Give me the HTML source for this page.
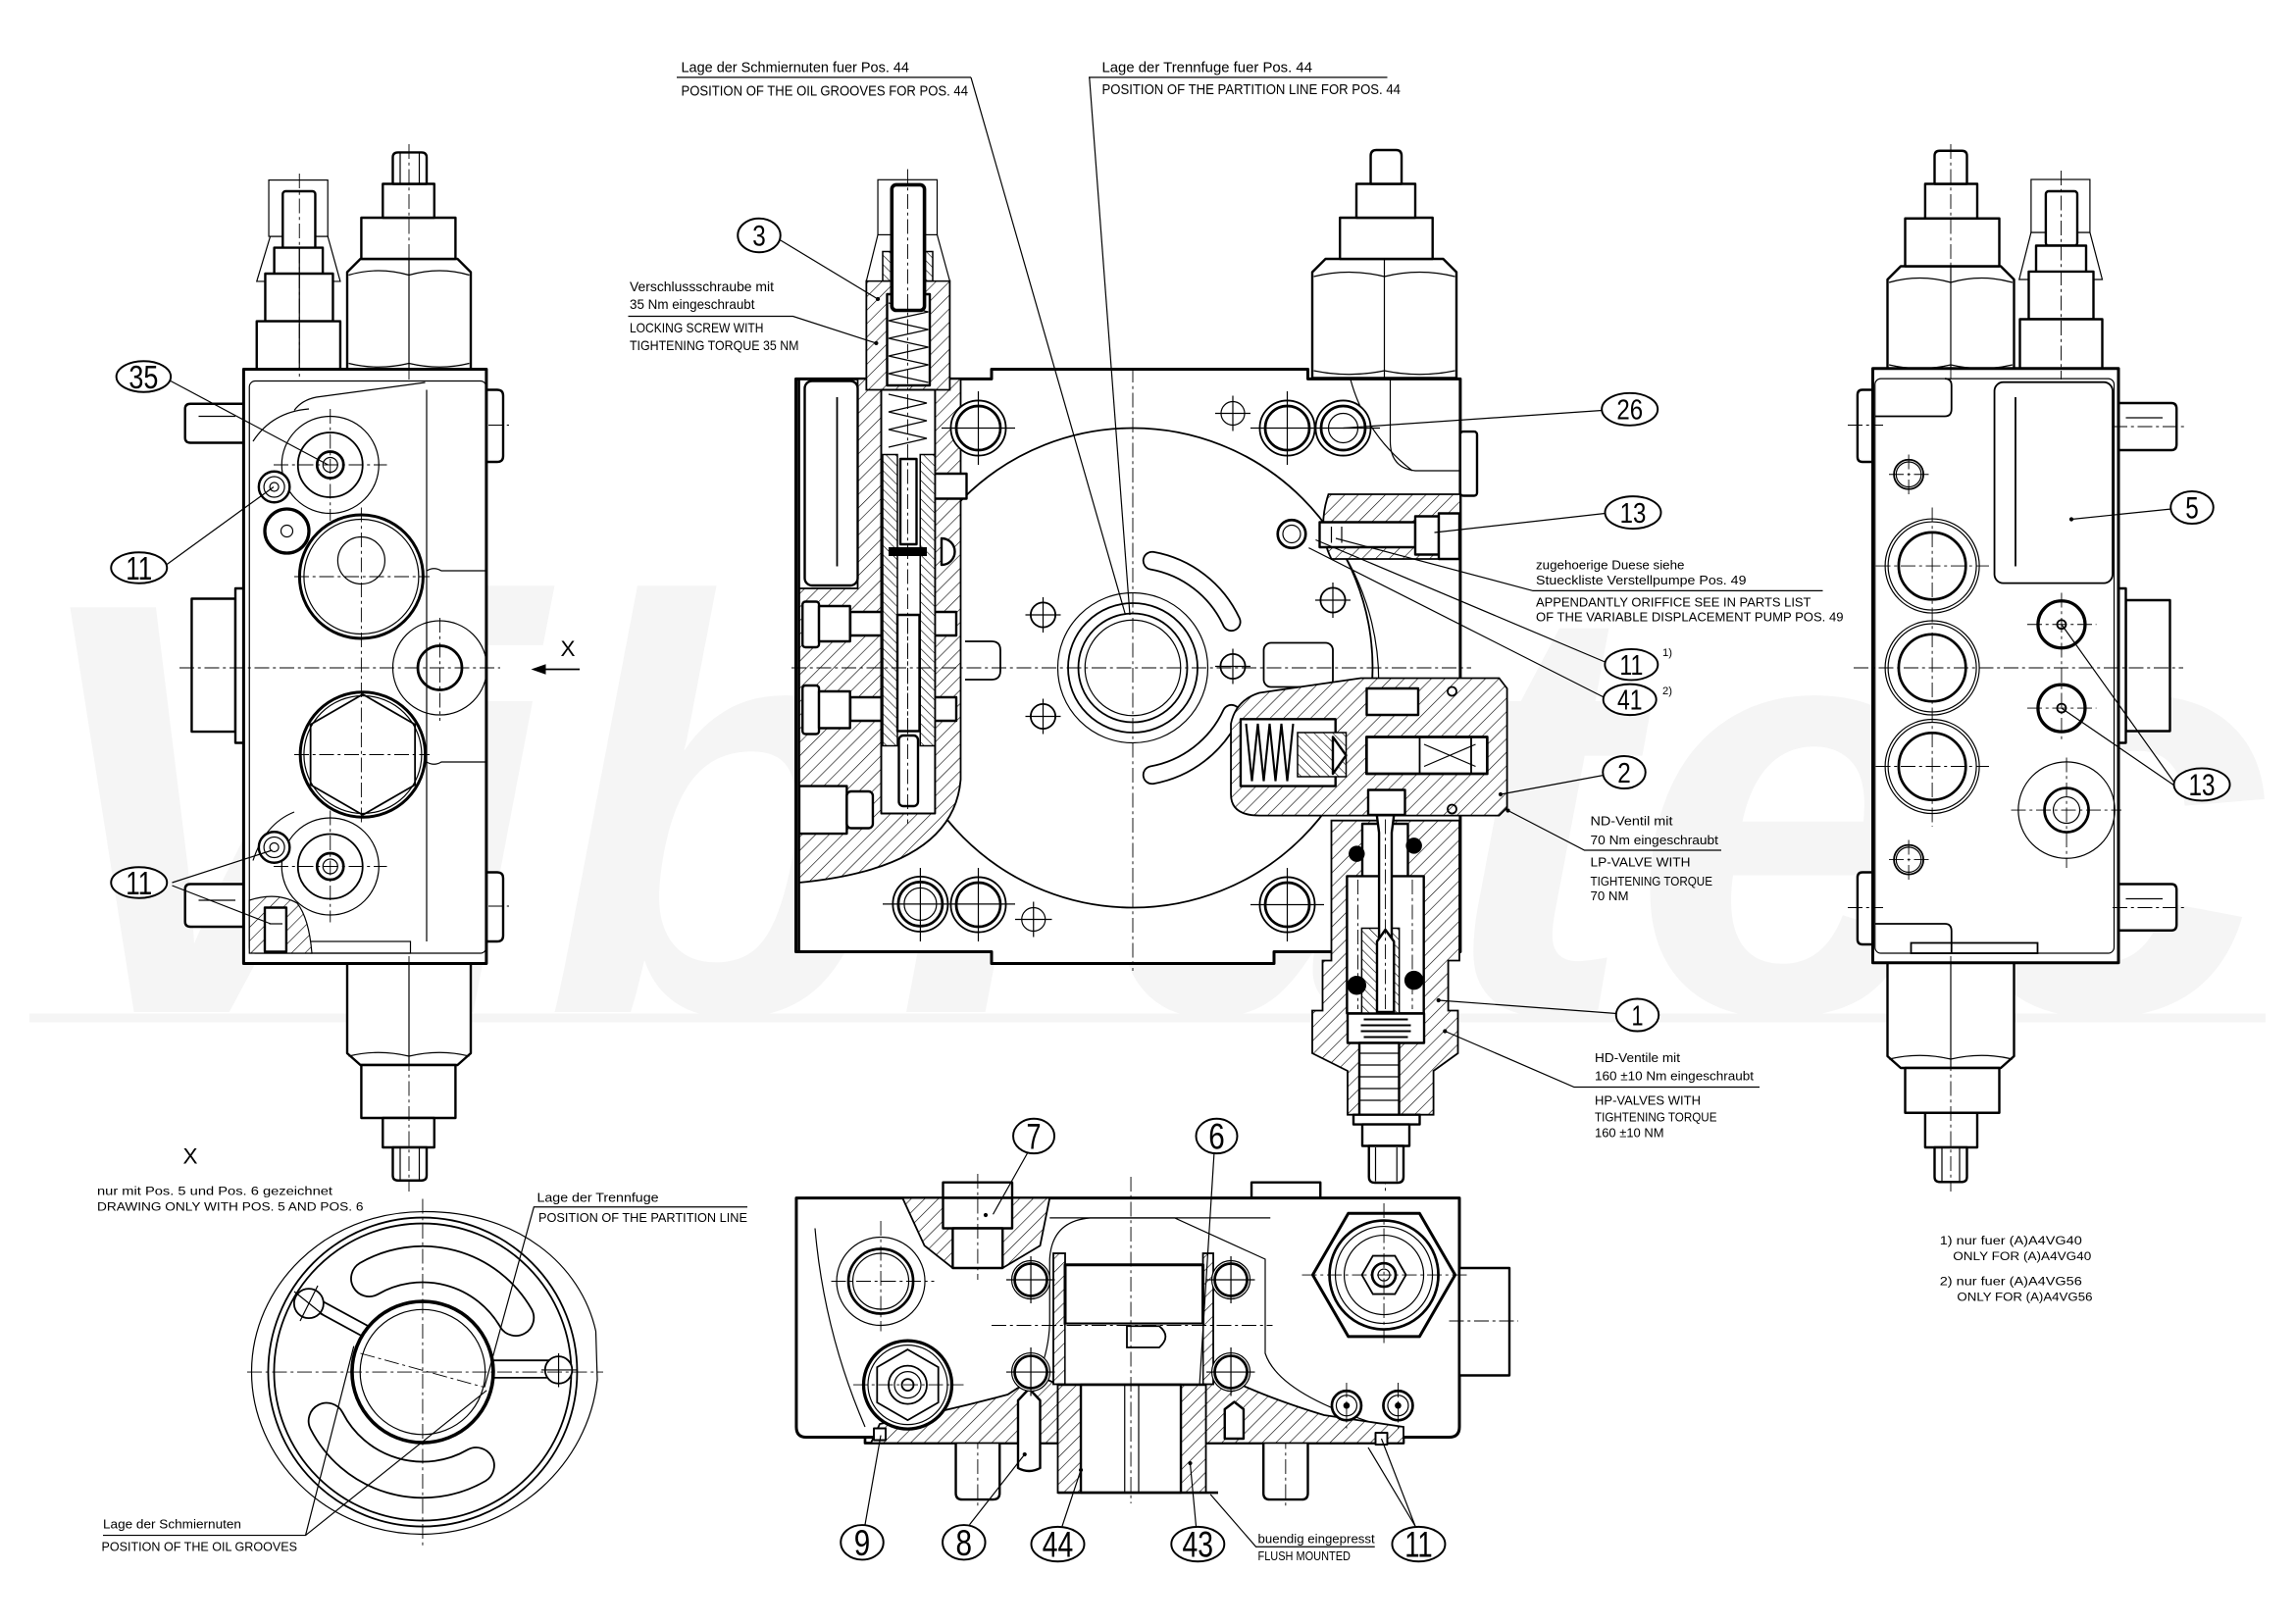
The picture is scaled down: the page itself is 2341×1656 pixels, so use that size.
<!DOCTYPE html>
<html><head><meta charset="utf-8">
<style>
html,body{margin:0;padding:0;background:#fff;}
svg{display:block;}
text{font-family:"Liberation Sans",sans-serif;fill:#000;}
.k{fill:none;stroke:#000;stroke-width:1.8;stroke-linejoin:round}
.m{fill:none;stroke:#000;stroke-width:1.2}
.t{fill:none;stroke:#000;stroke-width:0.8}
.w{fill:#fff;stroke:#000;stroke-width:1.6;stroke-linejoin:round}
.wt{fill:#fff;stroke:#000;stroke-width:0.8}
.c{fill:none;stroke:#000;stroke-width:0.6;stroke-dasharray:10 2.5 2 2.5}
.h{fill:url(#hp);stroke:#000;stroke-width:1.2}
.hq{fill:url(#hq);stroke:#000;stroke-width:1}
.lb{fill:#fff;stroke:#000;stroke-width:1.3}
.ld{fill:none;stroke:#000;stroke-width:0.8}
.n{text-anchor:middle}
.dot{fill:#000}
</style></head><body>
<svg xmlns="http://www.w3.org/2000/svg" width="2341" height="1656" viewBox="0 0 1560.67 1104">
<defs>
<pattern id="hp" patternUnits="userSpaceOnUse" width="6.5" height="6.5" patternTransform="rotate(45)"><rect width="6.5" height="6.5" fill="#fff"/><line x1="0" y1="0" x2="0" y2="6.5" stroke="#000" stroke-width="0.8"/></pattern>
<pattern id="hq" patternUnits="userSpaceOnUse" width="4.5" height="4.5" patternTransform="rotate(-45)"><rect width="4.5" height="4.5" fill="#fff"/><line x1="0" y1="0" x2="0" y2="4.5" stroke="#000" stroke-width="0.8"/></pattern>
<clipPath id="cl1"><rect x="165" y="251" width="165.6" height="404"/></clipPath>
</defs>
<rect x="0" y="0" width="1560.67" height="1104" fill="#fff"/>

<!-- watermark -->
<g fill="#f5f5f5">
<text x="15" y="688" font-size="400" font-style="italic" font-weight="bold" textLength="1530" lengthAdjust="spacingAndGlyphs" style="fill:#f5f5f5">Vibratec</text>
<rect x="20" y="689" width="1520" height="6"/>
</g>

<!-- ================= LEFT VIEW ================= -->
<g>
<path class="wt" d="M174.5,191.3 L183.7,160.7 H222.8 L231.3,191.3 Z"/>
<rect class="wt" x="182.7" y="122.4" width="40.1" height="38.3"/>
<rect class="w" x="192.2" y="130" width="22.1" height="41" rx="2"/>
<rect class="w" x="186.4" y="168.4" width="33" height="17.8"/>
<rect class="w" x="180.3" y="186" width="46" height="32.4"/>
<rect class="w" x="174.5" y="218.4" width="56.8" height="32.6"/>
<line class="t" x1="203.5" y1="168.4" x2="203.5" y2="251"/>

<path class="w" d="M236,251 V185 L245,176 H311 L320,185 V251 Z"/>
<path class="t" d="M237,187 Q257,181 278,187 Q299,181 319,187 M237,247 Q257,252 278,247 Q299,252 319,247"/>
<line class="t" x1="278" y1="176" x2="278" y2="251"/>
<rect class="w" x="245.6" y="148" width="64" height="28"/>
<rect class="w" x="260.2" y="125" width="35" height="23"/>
<path class="w" d="M267,125 V107 Q267,103.6 270.5,103.6 H286.5 Q290,103.6 290,107 V125 Z"/>
<line class="t" x1="272" y1="104" x2="272" y2="125"/><line class="t" x1="285" y1="104" x2="285" y2="125"/>

<path class="w" d="M236,655 V716 L245,724 H311 L320,716 V655 Z"/>
<path class="t" d="M237,718 Q257,713 278,718 Q299,713 319,718"/>
<line class="t" x1="278" y1="655" x2="278" y2="724"/>
<rect class="w" x="245.6" y="724" width="64" height="36"/>
<rect class="w" x="260.2" y="760" width="35" height="20"/>
<path class="w" d="M267,780 V799 Q267,802.5 270.5,802.5 H286.5 Q290,802.5 290,799 V780 Z"/>
<line class="t" x1="272" y1="780" x2="272" y2="802"/><line class="t" x1="285" y1="780" x2="285" y2="802"/>

<!-- studs & nubs -->
<path class="w" d="M165.6,274.5 H129.5 Q125.8,274.5 125.8,278 V297.5 Q125.8,301 129.5,301 H165.6"/>
<path class="w" d="M165.6,601 H129.5 Q125.8,601 125.8,604.5 V626.5 Q125.8,630 129.5,630 H165.6"/>
<line class="t" x1="135" y1="283" x2="160" y2="283"/><line class="t" x1="135" y1="612" x2="160" y2="612"/>
<rect class="w" x="130.3" y="407" width="29.7" height="90.4"/>
<rect class="w" x="160" y="400" width="5.6" height="105"/>
<path class="w" d="M330.6,265 H338 Q342,265 342,269 V310 Q342,314 338,314 H330.6"/>
<path class="w" d="M330.6,593 H338 Q342,593 342,597 V636 Q342,640 338,640 H330.6"/>

<!-- body -->
<rect class="w" x="165.6" y="251" width="165" height="404" style="stroke-width:2"/>
<rect class="t" x="169.5" y="259" width="161" height="389" rx="4"/>
<line class="t" x1="290" y1="265" x2="290" y2="640"/>
<path class="t" d="M200,279 Q205,272 215,270 L289,260"/>
<path class="t" d="M290,388 Q295,385 300,388 H330 M290,518 Q295,521 300,518 H330"/>
<path class="t" d="M172,300 Q185,280 210,278"/>
<path class="t" d="M172,585 Q180,560 200,552"/>
<rect class="t" x="211" y="640" width="68" height="8"/>

<!-- ports -->
<circle class="t" cx="224.5" cy="316" r="33"/>
<circle class="m" cx="224.5" cy="316" r="22" style="fill:#fff"/>
<circle class="k" cx="224.5" cy="316" r="9"/>
<circle class="t" cx="224.5" cy="316" r="5"/>
<circle class="w" cx="186.4" cy="331" r="10.5"/>
<circle class="t" cx="186.4" cy="331" r="7"/>
<circle class="t" cx="186.4" cy="331" r="3"/>
<circle class="k" cx="195" cy="361" r="15" style="fill:#fff;stroke-width:2.2"/>
<circle class="t" cx="195" cy="361" r="4"/>
<circle class="w" cx="245.6" cy="392" r="42" style="stroke-width:2"/>
<circle class="t" cx="245.6" cy="392" r="39"/>
<circle class="t" cx="245.6" cy="381" r="16"/>
<g clip-path="url(#cl1)"><circle class="t" cx="299" cy="454" r="32"/></g>
<circle class="k" cx="299" cy="454" r="15"/>
<circle class="w" cx="246.6" cy="513" r="42.5" style="stroke-width:2"/>
<circle class="t" cx="246.6" cy="513" r="40"/>
<polygon class="m" points="246.6,472 282.1,492.5 282.1,533.5 246.6,554 211.1,533.5 211.1,492.5"/>
<circle class="t" cx="224.5" cy="589" r="33"/>
<circle class="m" cx="224.5" cy="589" r="22" style="fill:#fff"/>
<circle class="k" cx="224.5" cy="589" r="9"/>
<circle class="t" cx="224.5" cy="589" r="5"/>
<circle class="w" cx="186.4" cy="576" r="10.5"/>
<circle class="t" cx="186.4" cy="576" r="7"/>
<circle class="t" cx="186.4" cy="576" r="3"/>
<path class="h" d="M169.5,612 Q188,606 202,614 Q210,624 212,648 H169.5 Z" style="stroke-width:0.8"/>
<rect class="w" x="180" y="617" width="14.6" height="30"/>
<line class="t" x1="183" y1="628" x2="192" y2="628"/>

<!-- centerlines -->
<line class="c" x1="122" y1="454" x2="340" y2="454"/>
<line class="c" x1="224.5" y1="278" x2="224.5" y2="354"/>
<line class="c" x1="224.5" y1="551" x2="224.5" y2="627"/>
<line class="c" x1="186" y1="316" x2="263" y2="316"/>
<line class="c" x1="186" y1="589" x2="263" y2="589"/>
<line class="c" x1="245.6" y1="345" x2="245.6" y2="560"/>
<line class="c" x1="200" y1="392" x2="292" y2="392"/>
<line class="c" x1="200" y1="513" x2="292" y2="513"/>
<line class="c" x1="299" y1="420" x2="299" y2="490"/>
<line class="c" x1="203.5" y1="118" x2="203.5" y2="256"/>
<line class="c" x1="278" y1="98" x2="278" y2="258"/>
<line class="c" x1="278" y1="650" x2="278" y2="810"/>
<line class="c" x1="332" y1="289" x2="346" y2="289"/>
<line class="c" x1="332" y1="616" x2="346" y2="616"/>

<!-- X arrow -->
<text x="386" y="446" font-size="15" class="n">X</text>
<line class="m" x1="394" y1="455" x2="368" y2="455"/>
<polygon points="361,455 371,451.5 371,458.5" fill="#000"/>

<!-- labels -->
<line class="ld" x1="116" y1="259" x2="223" y2="316"/>
<line class="ld" x1="113" y1="384" x2="186" y2="331"/>
<line class="ld" x1="117" y1="600" x2="185" y2="578"/>
<line class="ld" x1="117" y1="602" x2="184" y2="628"/>
<ellipse class="lb" cx="97.6" cy="256" rx="18.5" ry="10.5"/><text class="n" x="97.6" y="264" font-size="22" textLength="20" lengthAdjust="spacingAndGlyphs">35</text>
<ellipse class="lb" cx="94.5" cy="386" rx="19" ry="10.5"/><text class="n" x="94.5" y="394" font-size="22" textLength="18" lengthAdjust="spacingAndGlyphs">11</text>
<ellipse class="lb" cx="94.5" cy="600" rx="19" ry="10.5"/><text class="n" x="94.5" y="608" font-size="22" textLength="18" lengthAdjust="spacingAndGlyphs">11</text>
</g>

<!-- ================= TOP TEXTS ================= -->
<g>
<text x="463" y="49" font-size="9.8" textLength="155" lengthAdjust="spacingAndGlyphs">Lage der Schmiernuten fuer Pos. 44</text>
<line class="ld" x1="460" y1="52.6" x2="660" y2="52.6"/>
<text x="463" y="65" font-size="9.8" textLength="195" lengthAdjust="spacingAndGlyphs">POSITION OF THE OIL GROOVES FOR POS. 44</text>
<text x="749" y="49" font-size="9.8" textLength="143" lengthAdjust="spacingAndGlyphs">Lage der Trennfuge fuer Pos. 44</text>
<line class="ld" x1="740" y1="52.6" x2="943" y2="52.6"/>
<text x="749" y="64" font-size="9.8" textLength="203" lengthAdjust="spacingAndGlyphs">POSITION OF THE PARTITION LINE FOR POS. 44</text>

<text x="428" y="198" font-size="9.5" textLength="98" lengthAdjust="spacingAndGlyphs">Verschlussschraube mit</text>
<text x="428" y="210" font-size="9.5" textLength="85" lengthAdjust="spacingAndGlyphs">35 Nm eingeschraubt</text>
<text x="428" y="226" font-size="9.5" textLength="91" lengthAdjust="spacingAndGlyphs">LOCKING SCREW WITH</text>
<text x="428" y="238" font-size="9.5" textLength="115" lengthAdjust="spacingAndGlyphs">TIGHTENING TORQUE 35 NM</text>
</g>

<!-- ================= CENTER VIEW ================= -->
<g>
<path class="w" d="M892,257 V185 L901,176 H981 L990,185 V257 Z"/>
<path class="t" d="M893,188 Q917,182 941,188 Q965,182 989,188 M893,252 Q917,257 941,252 Q965,257 989,252"/>
<line class="t" x1="941" y1="176" x2="941" y2="257"/>
<rect class="w" x="910.8" y="148" width="63" height="28"/>
<rect class="w" x="922" y="125" width="40" height="23"/>
<path class="w" d="M931.7,125 V106 Q931.7,102 935.5,102 H949 Q952.7,102 952.7,106 V125 Z"/>

<path class="w" style="stroke-width:2" d="M541,257.6 H674 V251 H889 V257.6 H992.6 V647 H866 V655 H674 V647 H541 Z"/>
<rect class="w" x="992.6" y="293.4" width="11.4" height="43.6" rx="2"/>
<path class="t" d="M945,258 V300 Q945,318 962,320 H992.6"/>
<path class="t" d="M918,258 Q928,295 960,320"/>

<circle class="m" cx="770" cy="454" r="163"/>
<path class="t" d="M900,357 A170,170 0 0 1 937,470"/>

<path class="h" d="M583,257.6 H653 V530 Q648,590 543,600 V400 H583 Z"/>
<rect class="w" x="547" y="259" width="36" height="139" rx="5"/>
<line class="m" x1="569" y1="270" x2="569" y2="385"/>
<line class="k" x1="543" y1="257.6" x2="543" y2="647"/>

<rect class="w" x="578" y="416" width="72" height="16"/>
<rect class="w" x="578" y="474" width="72" height="16"/>
<rect class="w" x="545.5" y="409" width="11.2" height="31" rx="2"/>
<rect class="w" x="556.7" y="412" width="21.1" height="24"/>
<rect class="w" x="545.5" y="466" width="11.2" height="33" rx="2"/>
<rect class="w" x="556.7" y="470" width="21.1" height="25"/>
<rect class="w" x="543.3" y="534.4" width="32.3" height="32.3"/>
<rect class="w" x="575.6" y="538" width="17.7" height="25" rx="3"/>
<rect class="w" x="635" y="322" width="22" height="17"/>
<path class="w" d="M640,366 A9,9 0 0 1 640,384 Z"/>

<path class="h" d="M588.9,191 H645.6 V265 H588.9 Z"/>
<path class="wt" d="M596.7,159.6 L588.9,191 H645.6 L637,159.6 Z"/>
<rect class="hq" x="600" y="171" width="34" height="20"/>
<rect class="wt" x="596.7" y="122.2" width="40.3" height="37.4"/>
<rect class="w" x="603" y="200" width="29" height="62"/>
<path class="t" d="M604,206 L631,212 L604,218 L631,224 L604,230 L631,236 L604,242 L631,248 L604,254 L631,260"/>
<rect class="k" x="606.2" y="125.6" width="22.2" height="85.4" rx="3" style="fill:#fff;stroke-width:2.4"/>
<rect class="w" x="599" y="265" width="36.6" height="288" style="stroke-width:1.3"/>
<rect class="hq" x="600" y="309" width="10" height="198"/>
<rect class="hq" x="625.5" y="309" width="10" height="198"/>
<path class="t" d="M604,268 L630,274 L604,280 L630,286 L604,292 L630,298 L604,304"/>
<rect x="604" y="372" width="26" height="6" fill="#000"/>
<rect class="w" x="610" y="418" width="15" height="79"/>
<line class="c" x1="617" y1="420" x2="617" y2="495"/>
<rect class="w" x="612" y="312" width="11" height="58"/>
<rect class="w" x="611" y="500" width="13" height="48" rx="3"/>
<line class="c" x1="617" y1="115" x2="617" y2="560"/>

<circle class="t" cx="770" cy="454" r="51"/>
<circle class="m" cx="770" cy="454" r="44"/>
<circle class="m" cx="770" cy="454" r="37"/>
<circle class="t" cx="770" cy="454" r="32.5"/>
<path class="m" d="M783.9,375.2 A80,80 0 0 1 842.5,420.2 A6,6 0 0 1 831.6,425.3 A68,68 0 0 0 781.8,387 A6,6 0 0 1 783.9,375.2 Z"/>
<path class="m" d="M842.5,487.8 A80,80 0 0 1 783.9,532.8 A6,6 0 0 1 781.8,521 A68,68 0 0 0 831.6,482.7 A6,6 0 0 1 842.5,487.8 Z"/>
<path class="m" d="M656,436 H674 Q680,436 680,442 V456 Q680,462 674,462 H656"/>
<rect class="m" x="859" y="437" width="47" height="30" rx="5"/>

<g>
<circle class="w" cx="665" cy="291" r="18.7" style="stroke-width:1.2"/><circle class="k" cx="665" cy="291" r="15"/>
<circle class="t" cx="838" cy="281" r="8"/>
<circle class="w" cx="875" cy="291" r="18.7" style="stroke-width:1.2"/><circle class="k" cx="875" cy="291" r="15"/>
<circle class="w" cx="913" cy="291" r="18.7" style="stroke-width:1.2"/><circle class="k" cx="913" cy="291" r="15"/><circle class="t" cx="913" cy="291" r="10"/>
<circle class="w" cx="625.6" cy="614.6" r="18.7" style="stroke-width:1.2"/><circle class="k" cx="625.6" cy="614.6" r="15"/><circle class="t" cx="625.6" cy="614.6" r="11"/>
<circle class="w" cx="665" cy="615" r="18.7" style="stroke-width:1.2"/><circle class="k" cx="665" cy="615" r="15"/>
<circle class="w" cx="875" cy="615" r="18.7" style="stroke-width:1.2"/><circle class="k" cx="875" cy="615" r="15"/>
<circle class="t" cx="702.5" cy="625" r="8"/>
<circle class="m" cx="709" cy="418" r="8.4"/>
<circle class="m" cx="709" cy="487" r="8.4"/>
<circle class="m" cx="838" cy="453" r="8.4"/>
<circle class="m" cx="906" cy="408" r="8.4"/>
<path class="t" d="M640,291 H690 M665,266 V316 M826,281 H850 M838,269 V293 M850,291 H900 M875,266 V316 M888,291 H938 M600,614.6 H690 M625.6,590 V640 M665,590 V640 M850,615 H900 M875,590 V640 M690,625 H715 M702.5,613 V637 M697,418 H721 M709,406 V430 M697,487 H721 M709,475 V499 M826,453 H850 M838,441 V465 M894,408 H918 M906,396 V420"/>
</g>

<path class="h" d="M903,336 H992.6 V380 H905 Q895,360 903,336 Z"/>
<rect class="w" x="897" y="355" width="65" height="17"/>
<line class="t" x1="905" y1="358" x2="905" y2="369"/><line class="t" x1="912" y1="358" x2="912" y2="369"/>
<rect class="w" x="962" y="351" width="16" height="26"/>
<rect class="w" x="978" y="349" width="14" height="31"/>
<circle class="w" cx="878" cy="363" r="9.5" style="stroke-width:1.8"/>
<circle class="t" cx="878" cy="363" r="6"/>

<line class="c" x1="770" y1="250" x2="770" y2="660"/>
<line class="c" x1="538" y1="454" x2="1000" y2="454"/>

<!-- HP valve (1) -->
<path class="h" d="M905,557.8 H992 V653 H984.4 V687 H991 V716 L974.4,728 V757.8 H916 V728 L892,716 V687 H899 V653 H905 Z"/>
<path class="w" d="M926,560 H957 V596 H926 Z"/>
<rect class="w" x="915.6" y="595.6" width="52.2" height="93.3"/>
<line class="c" x1="923" y1="598" x2="923" y2="686"/><line class="c" x1="960" y1="598" x2="960" y2="686"/>
<rect class="hq" x="925.6" y="631" width="25.5" height="58"/>
<path class="w" d="M935.6,552 Q941.7,547 947.8,552 L946,566 V640 H937.4 V566 Z"/>
<path class="w" d="M936,640 L941.7,632 L947.5,640 V688 H936 Z"/>
<line class="c" x1="941.7" y1="540" x2="941.7" y2="810"/>
<circle cx="922.2" cy="580.4" r="5.5" fill="#000"/><circle cx="961.1" cy="574.9" r="5.5" fill="#000"/>
<circle cx="922.2" cy="669.8" r="6.5" fill="#000"/><circle cx="961.1" cy="666.4" r="6.5" fill="#000"/>
<rect class="w" x="916" y="689" width="52" height="20"/>
<path class="t" d="M927,693 H957 M925,697 H959 M925,701 H959 M927,705 H957" style="stroke-width:1.3"/>
<rect class="w" x="924" y="709" width="27" height="49"/>
<path class="t" d="M924,716 H951 M924,724 H951 M924,732 H951 M924,740 H951 M924,748 H951"/>
<rect class="w" x="920" y="757.8" width="45" height="6.6"/>
<rect class="w" x="926" y="764.4" width="32" height="14.6"/>
<path class="w" d="M930.5,779 V800 Q930.5,804 934.5,804 H950 Q954,804 954,800 V779 Z"/>
<line class="t" x1="935" y1="780" x2="935" y2="803"/><line class="t" x1="949.5" y1="780" x2="949.5" y2="803"/>
<circle class="dot" cx="977.8" cy="680" r="1.4"/><circle class="dot" cx="982.2" cy="701" r="1.4"/>

<!-- LP valve (2) -->
<path class="h" d="M836.7,492 Q840,476 856,471 L925,461 H1019 L1024.4,468 V549 L1019,554.4 H856 Q836.7,554.4 836.7,540 Z"/>
<rect class="w" x="843.3" y="488.9" width="64.5" height="45.5"/>
<path class="t" d="M847,492 L851,531 L855,492 L859,531 L863,492 L867,531 L871,492 L875,531 L879,492" style="stroke-width:1.4"/>
<rect class="hq" x="882" y="498" width="33" height="30"/>
<path class="w" d="M906,501 L915,513.5 L906,526 Z"/>
<rect class="w" x="928.9" y="501" width="82" height="25" style="stroke-width:1.8"/>
<line class="m" x1="965" y1="501" x2="965" y2="526"/>
<path class="t" d="M968,506 L1003,521 M968,521 L1003,506"/>
<line class="m" x1="1000" y1="501" x2="1000" y2="526"/>
<rect class="w" x="929" y="468" width="35" height="18"/>
<rect class="w" x="930" y="537" width="25" height="17"/>
<circle class="m" cx="987" cy="550" r="3"/>
<circle class="m" cx="987" cy="470" r="3"/>

<!-- leaders center -->
<line class="ld" x1="660" y1="52.6" x2="765" y2="418"/>
<line class="ld" x1="740.5" y1="52.6" x2="768" y2="418"/>
<line class="ld" x1="530" y1="163" x2="596.7" y2="203.3"/>
<polyline class="ld" points="427,215 539,215 595.6,233.3"/>
<circle class="dot" cx="596.7" cy="203.3" r="1.4"/><circle class="dot" cx="595.6" cy="233.3" r="1.4"/>
<line class="ld" x1="1089" y1="279" x2="913" y2="291"/>
<line class="ld" x1="1091" y1="349" x2="975" y2="362"/>
<polyline class="ld" points="908,366 1042,401.6 1239,401.6"/>
<line class="ld" x1="1091" y1="450" x2="894.3" y2="367"/>
<line class="ld" x1="1091" y1="474.4" x2="889.6" y2="372.4"/>
<line class="ld" x1="1090" y1="527" x2="1020" y2="540"/>
<polyline class="ld" points="1025,551 1077,578 1170,578"/>
<line class="ld" x1="1099" y1="689" x2="977.8" y2="680"/>
<polyline class="ld" points="982.2,701 1070,739 1196,739"/>
<circle class="dot" cx="1020" cy="540" r="1.4"/><circle class="dot" cx="1025" cy="551" r="1.4"/>

<ellipse class="lb" cx="516" cy="160" rx="14.5" ry="11.5"/><text class="n" x="516" y="167" font-size="20" textLength="9" lengthAdjust="spacingAndGlyphs">3</text>
<ellipse class="lb" cx="1107.8" cy="278.2" rx="19" ry="11"/><text class="n" x="1107.8" y="285.1" font-size="19.3" textLength="17.8" lengthAdjust="spacingAndGlyphs">26</text>
<ellipse class="lb" cx="1110" cy="348.4" rx="19" ry="11"/><text class="n" x="1110" y="355.3" font-size="19.3" textLength="17.8" lengthAdjust="spacingAndGlyphs">13</text>
<ellipse class="lb" cx="1108.9" cy="451.8" rx="18" ry="10.5"/><text class="n" x="1108.9" y="458.7" font-size="19.3" textLength="16" lengthAdjust="spacingAndGlyphs">11</text>
<ellipse class="lb" cx="1107.8" cy="475.6" rx="18" ry="10.5"/><text class="n" x="1107.8" y="482.5" font-size="19.3" textLength="17" lengthAdjust="spacingAndGlyphs">41</text>
<text x="1130" y="446" font-size="7.5">1)</text>
<text x="1130" y="472" font-size="7.5">2)</text>
<ellipse class="lb" cx="1104" cy="525" rx="14.5" ry="11"/><text class="n" x="1104" y="532" font-size="19.3" textLength="9" lengthAdjust="spacingAndGlyphs">2</text>
<ellipse class="lb" cx="1113" cy="690" rx="14.5" ry="11"/><text class="n" x="1113" y="697" font-size="19.3" textLength="8" lengthAdjust="spacingAndGlyphs">1</text>

<text x="1044" y="387" font-size="8.5" textLength="101" lengthAdjust="spacingAndGlyphs">zugehoerige Duese siehe</text>
<text x="1044" y="397.3" font-size="8.5" textLength="143" lengthAdjust="spacingAndGlyphs">Stueckliste Verstellpumpe Pos. 49</text>
<text x="1044" y="412.2" font-size="8.5" textLength="187" lengthAdjust="spacingAndGlyphs">APPENDANTLY ORIFFICE SEE IN PARTS LIST</text>
<text x="1044" y="422.2" font-size="8.5" textLength="209" lengthAdjust="spacingAndGlyphs">OF THE VARIABLE DISPLACEMENT PUMP POS. 49</text>
<text x="1081" y="561" font-size="8.5" textLength="56" lengthAdjust="spacingAndGlyphs">ND-Ventil mit</text>
<text x="1081" y="574" font-size="8.5" textLength="87" lengthAdjust="spacingAndGlyphs">70 Nm eingeschraubt</text>
<text x="1081" y="589" font-size="8.5" textLength="68" lengthAdjust="spacingAndGlyphs">LP-VALVE WITH</text>
<text x="1081" y="602" font-size="8.5" textLength="83" lengthAdjust="spacingAndGlyphs">TIGHTENING TORQUE</text>
<text x="1081" y="612" font-size="8.5" textLength="26" lengthAdjust="spacingAndGlyphs">70 NM</text>
<text x="1084" y="722" font-size="8.5" textLength="58" lengthAdjust="spacingAndGlyphs">HD-Ventile mit</text>
<text x="1084" y="734.5" font-size="8.5" textLength="108" lengthAdjust="spacingAndGlyphs">160 ±10 Nm eingeschraubt</text>
<text x="1084" y="751" font-size="8.5" textLength="72" lengthAdjust="spacingAndGlyphs">HP-VALVES WITH</text>
<text x="1084" y="762.5" font-size="8.5" textLength="83" lengthAdjust="spacingAndGlyphs">TIGHTENING TORQUE</text>
<text x="1084" y="773" font-size="8.5" textLength="47" lengthAdjust="spacingAndGlyphs">160 ±10 NM</text>
</g>

<!-- ================= RIGHT VIEW ================= -->
<g>
<path class="w" d="M1283,251 V190 L1292,181 H1360 L1369,190 V251 Z"/>
<line class="t" x1="1326" y1="181" x2="1326" y2="251"/>
<path class="t" d="M1284,192 Q1305,186 1326,192 Q1347,186 1368,192 M1284,248 Q1305,253 1326,248 Q1347,253 1368,248"/>
<rect class="w" x="1295" y="148.5" width="64" height="32.5"/>
<rect class="w" x="1308.6" y="125" width="35.4" height="23.5"/>
<path class="w" d="M1315,125 V106 Q1315,102.5 1318.5,102.5 H1333.5 Q1337,102.5 1337,106 V125 Z"/>

<path class="wt" d="M1372.5,190 L1380.6,158 H1420.6 L1429,190 Z"/>
<rect class="wt" x="1380.6" y="122" width="40" height="36"/>
<rect class="w" x="1390.6" y="130" width="21.4" height="37" rx="2"/>
<rect class="w" x="1384" y="167" width="34" height="18"/>
<rect class="w" x="1379" y="184.6" width="44" height="32.4"/>
<rect class="w" x="1373" y="217" width="56" height="34"/>

<path class="w" d="M1283,654.5 V718 L1292,726 H1360 L1369,718 V654.5 Z"/>
<line class="t" x1="1326" y1="654.5" x2="1326" y2="726"/>
<path class="t" d="M1284,720 Q1305,715 1326,720 Q1347,715 1368,720"/>
<rect class="w" x="1295" y="726" width="64" height="30.5"/>
<rect class="w" x="1308.6" y="756.5" width="35.4" height="23.5"/>
<path class="w" d="M1315,780 V800 Q1315,803.5 1318.5,803.5 H1333.5 Q1337,803.5 1337,800 V780 Z"/>
<line class="t" x1="1320" y1="780" x2="1320" y2="803"/><line class="t" x1="1332" y1="780" x2="1332" y2="803"/>

<path class="w" d="M1274,265 H1266 Q1262.6,265 1262.6,268.5 V310.5 Q1262.6,314 1266,314 H1274"/>
<path class="w" d="M1274,593 H1266 Q1262.6,593 1262.6,596.5 V638.5 Q1262.6,642 1266,642 H1274"/>
<path class="w" d="M1440,274 H1476 Q1479.5,274 1479.5,278 V302 Q1479.5,306 1476,306 H1440"/>
<path class="w" d="M1440,601 H1476 Q1479.5,601 1479.5,605 V628.5 Q1479.5,632.5 1476,632.5 H1440"/>
<line class="t" x1="1445" y1="284" x2="1470" y2="284"/><line class="t" x1="1445" y1="611" x2="1470" y2="611"/>
<rect class="w" x="1445" y="408" width="30" height="89"/>
<rect class="w" x="1440" y="400" width="5" height="105"/>

<rect class="w" x="1273" y="250.5" width="167" height="404" style="stroke-width:2"/>
<rect class="t" x="1274.5" y="257.4" width="162.5" height="390.6" rx="4"/>
<path class="m" d="M1274.5,283 H1322 Q1326.5,283 1326.5,278 V262 Q1326.5,257.4 1322,257.4"/>
<path class="m" d="M1274.5,628 H1322 Q1326.5,628 1326.5,633 V648"/>
<rect class="m" x="1299" y="641" width="86" height="7"/>
<rect class="m" x="1355.7" y="259.8" width="80.3" height="136.6" rx="6"/>
<line class="m" x1="1370" y1="270" x2="1370" y2="385"/>

<circle class="t" cx="1313.4" cy="384.7" r="32"/><circle class="t" cx="1313.4" cy="384.7" r="30"/><circle class="k" cx="1313.4" cy="384.7" r="22.8"/>
<circle class="t" cx="1313.4" cy="454" r="32"/><circle class="t" cx="1313.4" cy="454" r="30"/><circle class="k" cx="1313.4" cy="454" r="22.8"/>
<circle class="t" cx="1313.4" cy="521" r="32"/><circle class="t" cx="1313.4" cy="521" r="30"/><circle class="k" cx="1313.4" cy="521" r="22.8"/>
<circle class="m" cx="1297.4" cy="322.5" r="10"/><circle class="t" cx="1297.4" cy="322.5" r="8.5"/>
<circle class="m" cx="1297.4" cy="584.4" r="10"/><circle class="t" cx="1297.4" cy="584.4" r="8.5"/>
<circle class="k" cx="1401.3" cy="424.5" r="16" style="stroke-width:2.2"/><circle class="m" cx="1401.3" cy="424.5" r="3"/>
<circle class="k" cx="1401.3" cy="481.4" r="16" style="stroke-width:2.2"/><circle class="m" cx="1401.3" cy="481.4" r="3"/>
<circle class="t" cx="1404.7" cy="550.7" r="32.8"/><circle class="k" cx="1404.7" cy="550.7" r="15"/><circle class="t" cx="1404.7" cy="550.7" r="9"/>

<line class="c" x1="1260" y1="454" x2="1484" y2="454"/>
<line class="c" x1="1313.4" y1="345" x2="1313.4" y2="562"/>
<line class="c" x1="1275" y1="384.7" x2="1352" y2="384.7"/>
<line class="c" x1="1275" y1="521" x2="1352" y2="521"/>
<line class="c" x1="1401.3" y1="403" x2="1401.3" y2="505"/>
<line class="c" x1="1378" y1="424.5" x2="1425" y2="424.5"/>
<line class="c" x1="1378" y1="481.4" x2="1425" y2="481.4"/>
<line class="c" x1="1367" y1="550.7" x2="1442" y2="550.7"/>
<line class="c" x1="1404.7" y1="515" x2="1404.7" y2="590"/>
<line class="c" x1="1284" y1="322.5" x2="1311" y2="322.5"/><line class="c" x1="1297.4" y1="309" x2="1297.4" y2="336"/>
<line class="c" x1="1284" y1="584.4" x2="1311" y2="584.4"/><line class="c" x1="1297.4" y1="571" x2="1297.4" y2="598"/>
<line class="c" x1="1326" y1="98" x2="1326" y2="258"/>
<line class="c" x1="1326" y1="650" x2="1326" y2="810"/>
<line class="c" x1="1401" y1="116" x2="1401" y2="258"/>
<line class="c" x1="1256" y1="289" x2="1280" y2="289"/><line class="c" x1="1256" y1="617" x2="1280" y2="617"/>
<line class="c" x1="1436" y1="290" x2="1485" y2="290"/><line class="c" x1="1436" y1="617" x2="1485" y2="617"/>

<line class="ld" x1="1476" y1="346" x2="1408" y2="353"/><circle class="dot" cx="1408" cy="353" r="1.4"/>
<line class="ld" x1="1478" y1="532" x2="1401.3" y2="424.5"/>
<line class="ld" x1="1478" y1="534" x2="1401.3" y2="481.4"/>
<ellipse class="lb" cx="1490" cy="345" rx="14.5" ry="11"/><text class="n" x="1490" y="352.5" font-size="21" textLength="9" lengthAdjust="spacingAndGlyphs">5</text>
<ellipse class="lb" cx="1496.7" cy="533.3" rx="19" ry="11"/><text class="n" x="1496.7" y="540.8" font-size="21" textLength="18" lengthAdjust="spacingAndGlyphs">13</text>

<text x="1318.5" y="846" font-size="8" textLength="96.7" lengthAdjust="spacingAndGlyphs">1) nur fuer (A)A4VG40</text>
<text x="1327.5" y="856.6" font-size="8" textLength="94" lengthAdjust="spacingAndGlyphs">ONLY FOR (A)A4VG40</text>
<text x="1318.5" y="873.7" font-size="8" textLength="96.7" lengthAdjust="spacingAndGlyphs">2) nur fuer (A)A4VG56</text>
<text x="1330.3" y="884.4" font-size="8" textLength="92" lengthAdjust="spacingAndGlyphs">ONLY FOR (A)A4VG56</text>
</g>

<!-- ================= X VIEW (bottom left) ================= -->
<g>
<text class="n" x="129.3" y="791" font-size="15">X</text>
<text x="66" y="812.3" font-size="8" textLength="160" lengthAdjust="spacingAndGlyphs">nur mit Pos. 5 und Pos. 6 gezeichnet</text>
<text x="66" y="823" font-size="8" textLength="181" lengthAdjust="spacingAndGlyphs">DRAWING ONLY WITH POS. 5 AND POS. 6</text>

<path class="t" d="M287.3,823.7 C352,823 395,860 405,905 L406,938 C400,995 350,1042 287.3,1043 C220,1043 171,990 171,932.7 C171,875 220,824 287.3,823.7 Z"/>
<circle class="m" cx="287.3" cy="932.7" r="105"/>
<circle class="m" cx="287.3" cy="932.7" r="101"/>
<path class="m" d="M244.55,858.66 A85.5,85.5 0 0 1 361.34,889.95 A12.25,12.25 0 0 1 340.13,902.2 A61,61 0 0 0 256.8,879.87 A12.25,12.25 0 0 1 244.55,858.66 Z"/>
<path class="m" d="M330.05,1006.74 A85.5,85.5 0 0 1 211.12,971.52 A12.25,12.25 0 0 1 232.95,960.39 A61,61 0 0 0 317.8,985.53 A12.25,12.25 0 0 1 330.05,1006.74 Z"/>
<line class="m" x1="201.8" y1="884.2" x2="249.3" y2="910"/>
<line class="m" x1="205.6" y1="877.2" x2="253.1" y2="903"/>
<circle class="m" cx="209.9" cy="886.1" r="10" style="fill:#fff"/>
<line class="t" x1="200" y1="878" x2="220" y2="894"/><line class="t" x1="204" y1="898" x2="216" y2="874"/>
<line class="m" x1="333" y1="924.8" x2="376.7" y2="924.8"/>
<line class="m" x1="333" y1="936.6" x2="376.7" y2="936.6"/>
<circle class="m" cx="379.7" cy="931.3" r="9.2" style="fill:#fff"/>
<line class="t" x1="368" y1="931.3" x2="392" y2="931.3"/><line class="t" x1="379.7" y1="920" x2="379.7" y2="943"/>
<circle class="k" cx="287.3" cy="932.7" r="48" style="fill:#fff;stroke-width:2.4"/>
<circle class="t" cx="287.3" cy="932.7" r="42.5"/>
<line class="c" x1="245" y1="920" x2="329" y2="943"/>
<line class="c" x1="168" y1="932.7" x2="410" y2="932.7"/>
<line class="c" x1="287.3" y1="815" x2="287.3" y2="1052"/>

<text x="365" y="817" font-size="8.5" textLength="82.7" lengthAdjust="spacingAndGlyphs">Lage der Trennfuge</text>
<polyline class="ld" points="329.3,943.1 362.9,820.5 508,820.5"/>
<text x="366" y="830.7" font-size="8.5" textLength="142" lengthAdjust="spacingAndGlyphs">POSITION OF THE PARTITION LINE</text>
<text x="70" y="1039" font-size="8.5" textLength="94" lengthAdjust="spacingAndGlyphs">Lage der Schmiernuten</text>
<polyline class="ld" points="70,1043.7 207.7,1043.7 240.5,915.1"/>
<line class="ld" x1="207.7" y1="1043.7" x2="330.8" y2="945.2"/>
<text x="69" y="1054.5" font-size="8.5" textLength="133" lengthAdjust="spacingAndGlyphs">POSITION OF THE OIL GROOVES</text>
</g>

<!-- ================= BOTTOM CENTER VIEW ================= -->
<g>
<rect class="w" x="641" y="803.8" width="47" height="31.2"/>
<rect class="w" x="850.7" y="803.8" width="46.8" height="10.6"/>
<path class="w" style="stroke-width:2" d="M541.3,814.4 H992 V970 Q992,977 985,977 H548 Q541.3,977 541.3,970 Z"/>
<path class="k" d="M588,977 V981 H954 V977"/>
<rect class="w" x="992" y="862" width="34" height="73"/>
<line class="c" x1="985" y1="898" x2="1032" y2="898"/>
<path class="w" d="M649.7,981 V1015 Q649.7,1019.4 654,1019.4 H675 Q679.5,1019.4 679.5,1015 V981"/>
<path class="w" d="M858.8,981 V1015 Q858.8,1019.4 863,1019.4 H885 Q889,1019.4 889,1015 V981"/>
<line class="c" x1="664.6" y1="975" x2="664.6" y2="1024"/><line class="c" x1="873.9" y1="975" x2="873.9" y2="1024"/>

<path class="h" d="M613.5,814.4 H713.5 L707,846.8 L681.5,862 H647.6 L628.4,846.8 Z"/>
<rect class="w" x="641" y="814.4" width="47" height="20.6"/>
<rect class="w" x="647.6" y="835" width="33.9" height="27"/>
<line class="c" x1="664.6" y1="798" x2="664.6" y2="870"/>
<circle class="dot" cx="670" cy="826" r="1.4"/>

<path class="t" d="M554,835 Q560,905 588,970"/>
<path class="t" d="M713.5,856 Q715,830 741,828 H798.5 L860,856 V920 Q870,950 949,972"/>
<path class="t" d="M713.5,856 V900 Q712,940 680,970"/>
<line class="t" x1="713.5" y1="827.9" x2="863.5" y2="827.9"/>

<path class="h" d="M592,981 L598,968 Q640,960 685,948 L705,935 L719,941 V981 Z"/>
<path class="h" d="M819.7,941 L830,935 Q860,950 900,962 L954,970 V981 H819.7 Z"/>

<rect class="h" x="716" y="852" width="8" height="89"/>
<rect class="h" x="817.7" y="852" width="7" height="89"/>
<rect class="w" x="724" y="859.8" width="93.7" height="40.2" style="stroke-width:2"/>
<rect class="wt" x="724" y="900" width="93.7" height="41.3"/>
<path class="m" d="M766,901.5 H788 Q796.5,908.5 788,916 H766 Z"/>
<rect class="h" x="719" y="941.3" width="15.7" height="73.4"/>
<rect class="h" x="802.7" y="941.3" width="17" height="73.4"/>
<rect class="w" x="734.7" y="941.3" width="68" height="73.4"/>
<line class="t" x1="764.5" y1="941.3" x2="764.5" y2="1014.7"/><line class="t" x1="774" y1="941.3" x2="774" y2="1014.7"/>
<line class="k" x1="719" y1="941.3" x2="819.7" y2="941.3"/>
<line class="k" x1="719" y1="1014.7" x2="828" y2="1014.7"/>
<line class="c" x1="768.7" y1="800" x2="768.7" y2="1022"/>
<line class="c" x1="674" y1="901" x2="865" y2="901"/>

<path class="w" d="M692,998 V952 L699.5,944 L707,952 V998 Q699.5,1002 692,998 Z"/>
<path class="w" d="M832.5,978 V958 L839,953 L845.3,958 V978 Z"/>
<rect class="w" x="594" y="971" width="8" height="8" style="stroke-width:1.3"/>
<rect class="w" x="935" y="974" width="8" height="8" style="stroke-width:1.3"/>

<circle class="t" cx="598.7" cy="871" r="30"/>
<circle class="k" cx="598.7" cy="871" r="22" style="fill:#fff"/>
<circle class="t" cx="598.7" cy="871" r="19"/>
<line class="c" x1="565" y1="871" x2="635" y2="871"/><line class="c" x1="598.7" y1="830" x2="598.7" y2="905"/>
<circle class="k" cx="617" cy="941.4" r="30" style="fill:#fff;stroke-width:2.2"/>
<circle class="t" cx="617" cy="941.4" r="27"/>
<polygon class="m" points="617,917.4 637.8,929.4 637.8,953.4 617,965.4 596.2,953.4 596.2,929.4"/>
<circle class="m" cx="617" cy="941.4" r="13"/>
<circle class="t" cx="617" cy="941.4" r="9"/>
<circle class="m" cx="617" cy="941.4" r="4"/>
<line class="c" x1="580" y1="941.4" x2="655" y2="941.4"/>

<polygon class="w" style="stroke-width:2" points="892.3,866.7 916.5,824.8 964.9,824.8 989.1,866.7 964.9,908.6 916.5,908.6"/>
<circle class="k" cx="940.7" cy="866.7" r="37"/>
<circle class="t" cx="940.7" cy="866.7" r="33"/>
<circle class="t" cx="940.7" cy="866.7" r="27"/>
<polygon class="m" points="925.7,866.7 933.2,853.7 948.2,853.7 955.7,866.7 948.2,879.7 933.2,879.7"/>
<circle class="k" cx="940.7" cy="866.7" r="8"/>
<circle class="t" cx="940.7" cy="866.7" r="4"/>
<line class="c" x1="885" y1="866.7" x2="997" y2="866.7"/><line class="c" x1="940.7" y1="818" x2="940.7" y2="915"/>

<g>
<circle class="w" cx="700.7" cy="870" r="13" style="stroke-width:0.8"/><circle class="k" cx="700.7" cy="870" r="11"/>
<circle class="w" cx="836.7" cy="870" r="13" style="stroke-width:0.8"/><circle class="k" cx="836.7" cy="870" r="11"/>
<circle class="w" cx="700.7" cy="932.7" r="13" style="stroke-width:0.8"/><circle class="k" cx="700.7" cy="932.7" r="11"/>
<circle class="w" cx="836.7" cy="932.7" r="13" style="stroke-width:0.8"/><circle class="k" cx="836.7" cy="932.7" r="11"/>
<path class="t" d="M684,870 H717 M700.7,854 V886 M820,870 H853 M836.7,854 V886 M684,932.7 H717 M700.7,916 V949 M820,932.7 H853 M836.7,916 V949"/>
</g>
<circle class="k" cx="915.3" cy="955.5" r="10" style="fill:#fff"/><circle class="t" cx="915.3" cy="955.5" r="7"/><circle class="dot" cx="915.3" cy="955.5" r="2.2"/>
<circle class="k" cx="950.3" cy="955.5" r="10" style="fill:#fff"/><circle class="t" cx="950.3" cy="955.5" r="7"/><circle class="dot" cx="950.3" cy="955.5" r="2.2"/>
<line class="c" x1="915.3" y1="940" x2="915.3" y2="971"/><line class="c" x1="950.3" y1="940" x2="950.3" y2="971"/>

<line class="ld" x1="698.6" y1="783.5" x2="675" y2="825.5"/>
<line class="ld" x1="825.3" y1="783.5" x2="815.4" y2="941"/>
<line class="ld" x1="588" y1="1036.5" x2="598.7" y2="975.7"/>
<line class="ld" x1="659" y1="1036.5" x2="696.5" y2="988.7"/>
<line class="ld" x1="722" y1="1037.5" x2="734.7" y2="999.3"/>
<line class="ld" x1="813" y1="1037.5" x2="809" y2="994.7"/>
<line class="ld" x1="962" y1="1037.5" x2="930" y2="984"/>
<line class="ld" x1="962" y1="1037.5" x2="939" y2="978"/>
<polyline class="ld" points="822.8,1015.9 853.7,1051.5 934.5,1051.5"/>
<circle class="dot" cx="696.5" cy="988.7" r="1.4"/><circle class="dot" cx="734.7" cy="999.3" r="1.4"/><circle class="dot" cx="809" cy="994.7" r="1.4"/>

<ellipse class="lb" cx="702.7" cy="772.3" rx="14" ry="11.8"/><text class="n" x="702.7" y="781" font-size="25" textLength="10" lengthAdjust="spacingAndGlyphs">7</text>
<ellipse class="lb" cx="827" cy="772.3" rx="14" ry="11.8"/><text class="n" x="827" y="781" font-size="25" textLength="11" lengthAdjust="spacingAndGlyphs">6</text>
<ellipse class="lb" cx="586" cy="1048.5" rx="14.5" ry="11.8"/><text class="n" x="586" y="1057.2" font-size="25" textLength="11" lengthAdjust="spacingAndGlyphs">9</text>
<ellipse class="lb" cx="655.2" cy="1048.5" rx="14.5" ry="11.8"/><text class="n" x="655.2" y="1057.2" font-size="25" textLength="11" lengthAdjust="spacingAndGlyphs">8</text>
<ellipse class="lb" cx="719" cy="1049.7" rx="18" ry="11.8"/><text class="n" x="719" y="1058.4" font-size="25" textLength="21" lengthAdjust="spacingAndGlyphs">44</text>
<ellipse class="lb" cx="814.2" cy="1049.7" rx="18" ry="11.8"/><text class="n" x="814.2" y="1058.4" font-size="25" textLength="21" lengthAdjust="spacingAndGlyphs">43</text>
<ellipse class="lb" cx="964.3" cy="1049.7" rx="18" ry="11.8"/><text class="n" x="964.3" y="1058.4" font-size="25" textLength="19" lengthAdjust="spacingAndGlyphs">11</text>

<text x="855" y="1049" font-size="8.5" textLength="79.5" lengthAdjust="spacingAndGlyphs">buendig eingepresst</text>
<text x="855" y="1060.7" font-size="8.5" textLength="63" lengthAdjust="spacingAndGlyphs">FLUSH MOUNTED</text>
</g>
</svg>
</body></html>
